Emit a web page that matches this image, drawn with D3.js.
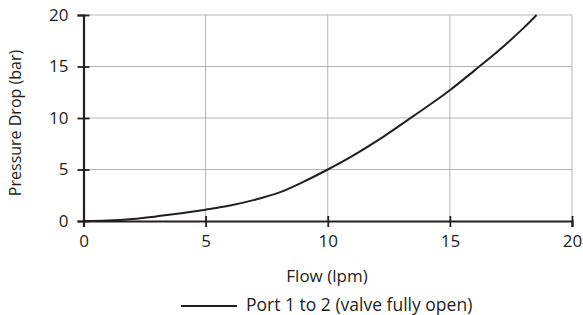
<!DOCTYPE html>
<html>
<head>
<meta charset="utf-8">
<script src="https://cdn.jsdelivr.net/npm/d3@7"></script>
<style>
body { margin: 0; background: #fff; }
text { font-family: "Open Sans", sans-serif; fill: #231f20; }
</style>
</head>
<body>
<div id="chart"></div>
<script>
// values
let flow     = [0, 1, 2, 3, 4, 5, 6, 7, 8, 9, 10, 11, 12, 13, 14, 15, 16, 17, 18, 18.55];
let pressure = [0, 0.05, 0.2, 0.45, 0.75, 1.1, 1.5, 2.05, 2.75, 3.8, 5.0, 6.3, 7.75, 9.35, 11.0, 12.7, 14.6, 16.55, 18.7, 20];
let xTicks = [0, 5, 10, 15, 20];
let yTicks = [0, 5, 10, 15, 20];
let seriesName = 'Port 1 to 2 (valve fully open)';

let width = 583, height = 315;
let plotLeft = 83.5, plotRight = 572, plotTop = 15, plotBottom = 221;

let svg = d3.select('#chart').append('svg')
	.attr('width', width)
	.attr('height', height);

let x = d3.scaleLinear().domain([0, 20]).range([plotLeft, plotRight]);
let y = d3.scaleLinear().domain([0, 20]).range([plotBottom, plotTop]);

// grid
let grid = svg.append('g').attr('stroke', '#b5b5b5').attr('stroke-width', 1);
grid.selectAll('line.gx').data(xTicks.slice(1)).enter().append('line')
	.attr('x1', d => x(d)).attr('x2', d => x(d))
	.attr('y1', plotTop).attr('y2', plotBottom);
grid.selectAll('line.gy').data(yTicks.slice(1)).enter().append('line')
	.attr('x1', plotLeft).attr('x2', plotRight)
	.attr('y1', d => y(d)).attr('y2', d => y(d));

// axes
let xAxis = svg.append('g')
	.attr('transform', `translate(0,${plotBottom})`)
	.call(d3.axisBottom(x).tickValues(xTicks).tickSize(6).tickPadding(8));
let yAxis = svg.append('g')
	.attr('transform', `translate(${plotLeft},0)`)
	.call(d3.axisLeft(y).tickValues(yTicks).tickSize(6).tickPadding(9));
[xAxis, yAxis].forEach(a => {
	a.select('.domain').attr('stroke', '#231f20').attr('stroke-width', 2.2);
	a.selectAll('.tick line').attr('stroke', '#231f20').attr('stroke-width', 1.8);
	a.selectAll('.tick text').style('font-size', '17px').attr('fill', '#231f20');
});
xAxis.selectAll('.tick line').attr('y1', -5);
yAxis.selectAll('.tick line').attr('x1', 6);

// curve
let pts = flow.map((f, i) => [f, pressure[i]]);
svg.append('path')
	.datum(pts)
	.attr('fill', 'none')
	.attr('stroke', '#231f20')
	.attr('stroke-width', 2)
	.attr('d', d3.line().x(d => x(d[0])).y(d => y(d[1])).curve(d3.curveCatmullRom));

// labels
svg.append('text')
	.attr('x', 327).attr('y', 282)
	.attr('text-anchor', 'middle')
	.style('font-size', '17px')
	.text('Flow (lpm)');
svg.append('text')
	.attr('transform', 'translate(21,123) rotate(-90)')
	.attr('text-anchor', 'middle')
	.style('font-size', '16px')
	.text('Pressure Drop (bar)');

// legend
svg.append('line')
	.attr('x1', 181).attr('x2', 237)
	.attr('y1', 306).attr('y2', 306)
	.attr('stroke', '#231f20').attr('stroke-width', 2);
svg.append('text')
	.attr('x', 246).attr('y', 311)
	.style('font-size', '17.5px')
	.text(seriesName);
</script>
</body>
</html>
